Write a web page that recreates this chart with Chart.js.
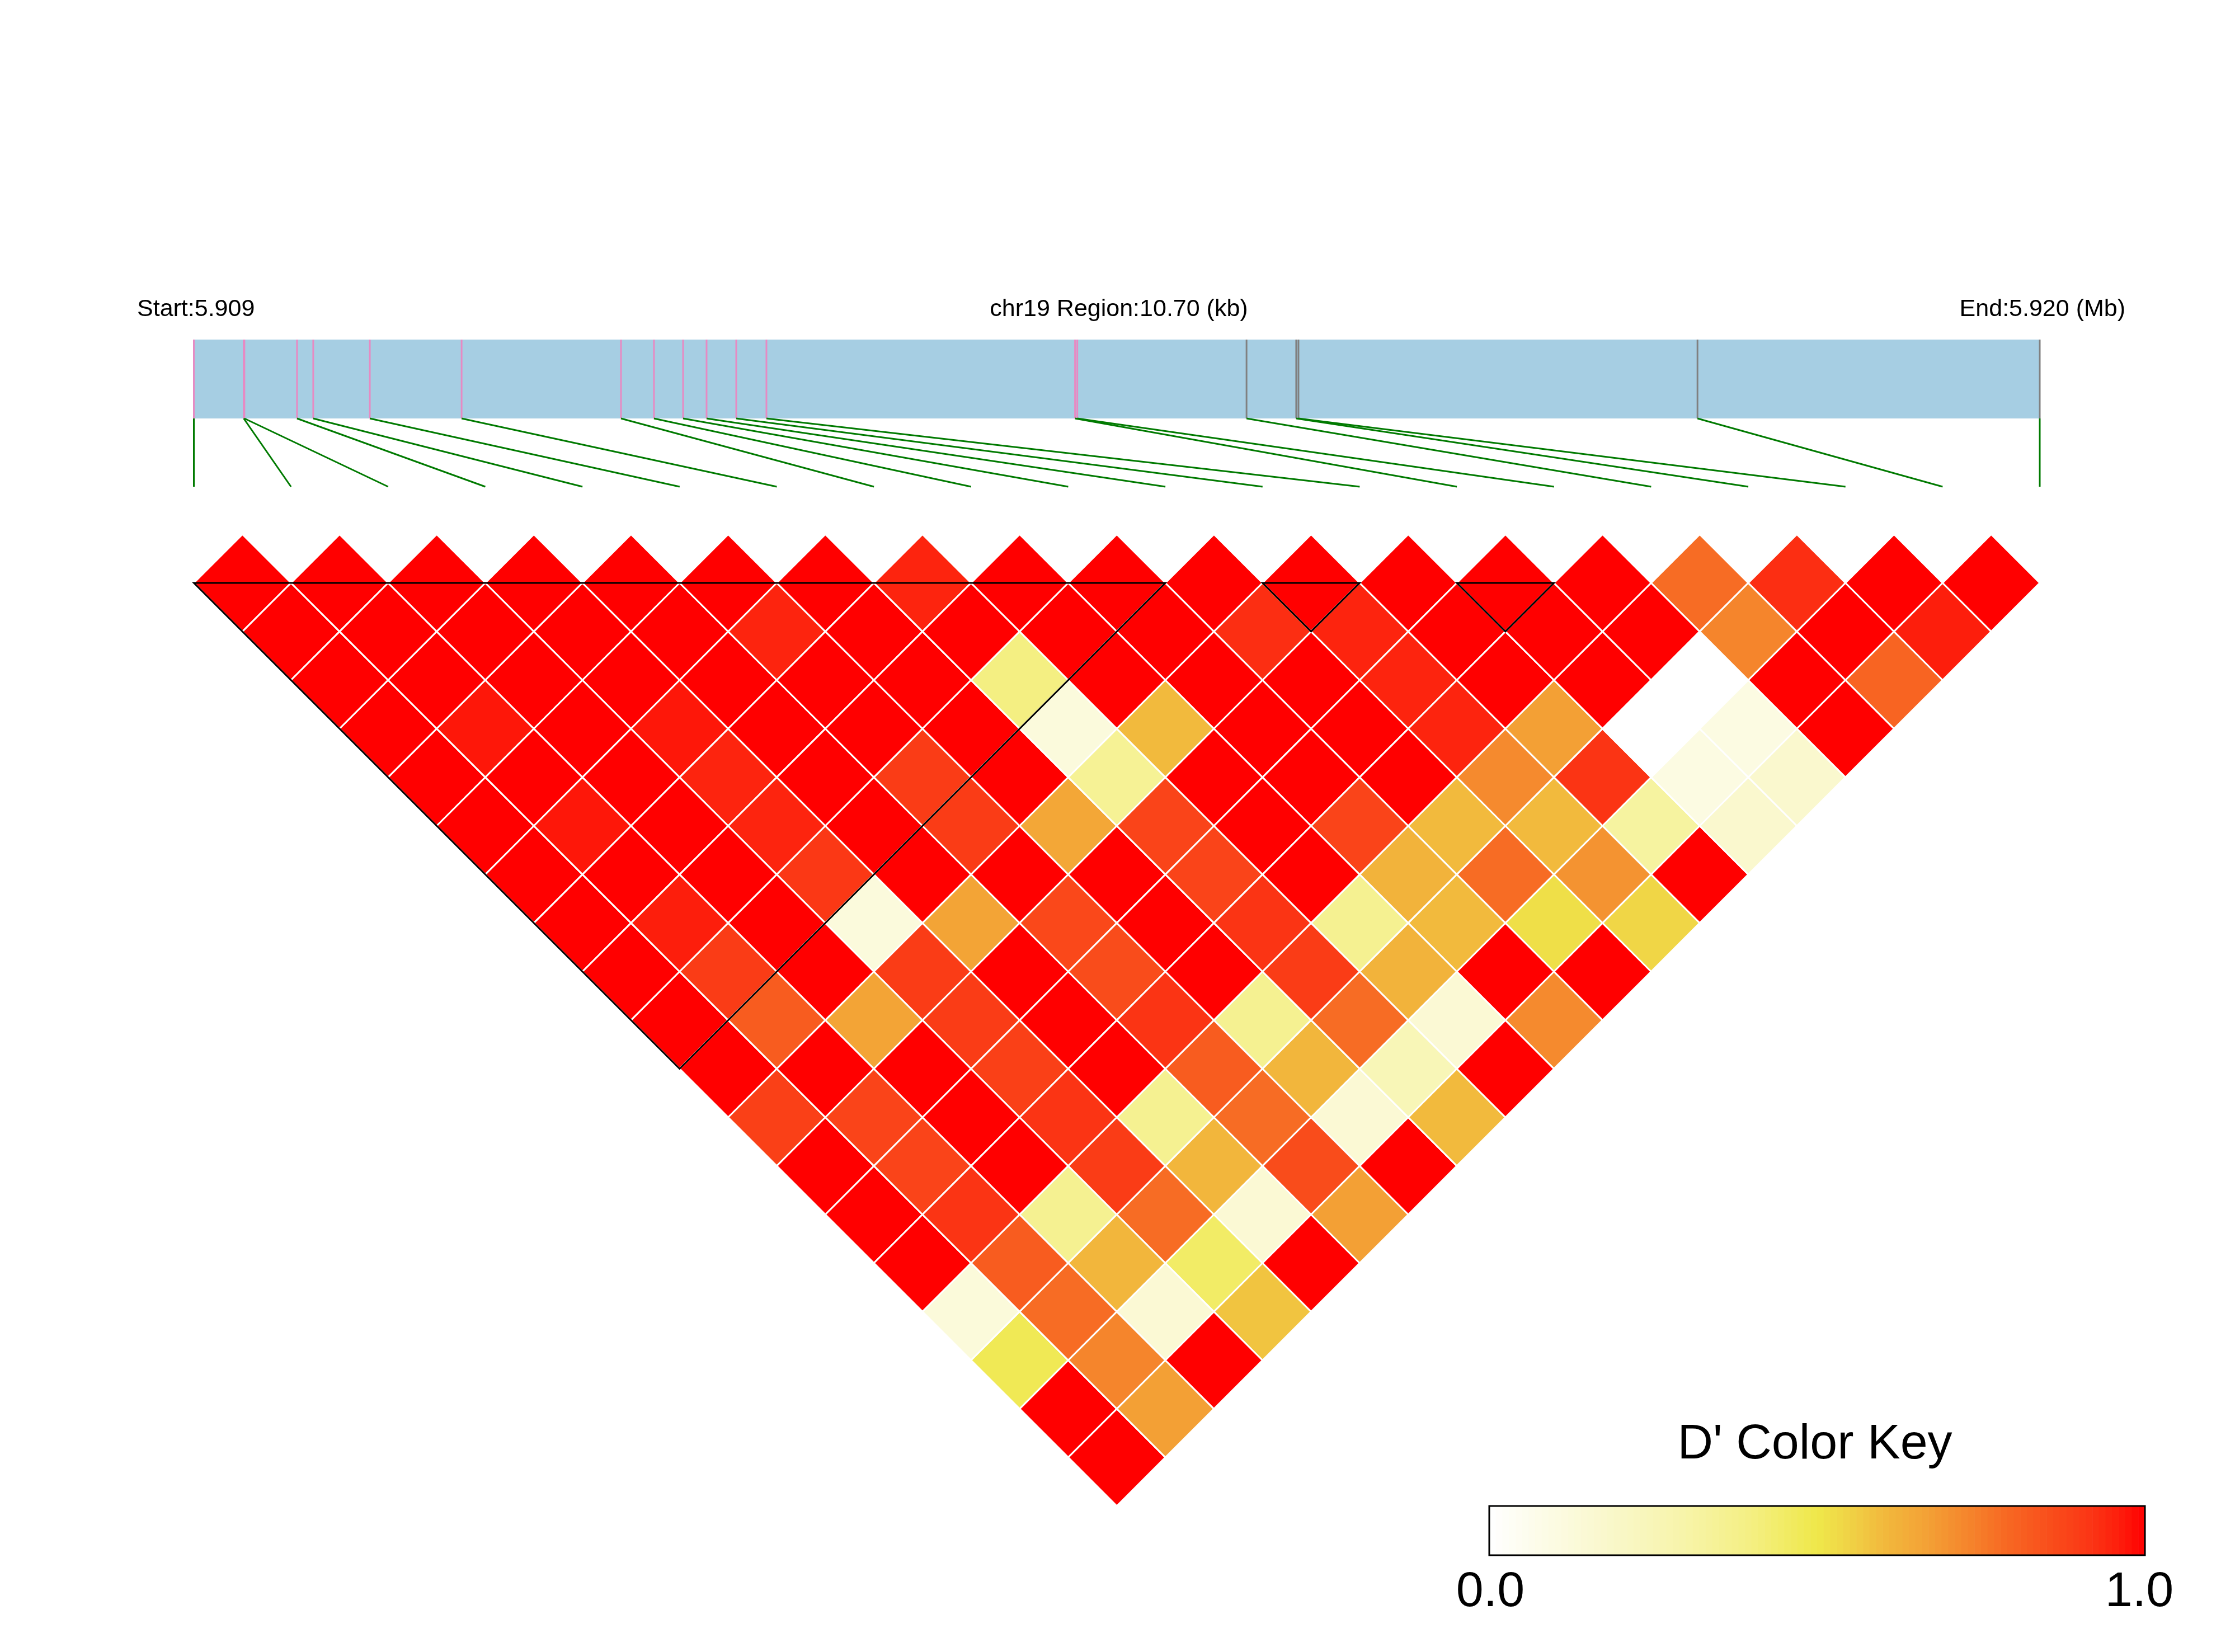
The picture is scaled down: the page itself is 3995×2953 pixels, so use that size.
<!DOCTYPE html>
<html>
<head>
<meta charset="utf-8">
<script src="https://cdn.jsdelivr.net/npm/chart.js@4.4.1/dist/chart.umd.min.js"></script>
<style>
html,body{margin:0;padding:0;background:#ffffff;}
#wrap{width:3995px;height:2953px;position:relative;}
</style>
</head>
<body>
<div id="wrap"><canvas id="c" width="3995" height="2953"></canvas></div>
<script>
// ---------------- DATA ----------------
const chromosome = 'chr19';
// physical positions of the 20 SNPs (bp)
const snpPositions = [
  5909250, 5909539, 5909543, 5909848, 5909942, 5910270, 5910802, 5911726, 5911917, 5912086,
  5912222, 5912394, 5912569, 5914358, 5914371, 5915352, 5915640, 5915653, 5917966, 5919950
];
// tick class in the gene bar: 'p' = pink, 'g' = grey
const snpTickClass = ['p','p','p','p','p','p','p','p','p','p','p','p','p','p','p','g','g','g','g','g'];
// D' values, row i holds pairs (i, j) for j = i+1 .. 20
const dPrimeRows = [
  [1,1,1,1,1,1,1,1,1,1,1,0.89,1,1,1,0.13,0.48,1,1],
  [1,1,1,0.97,1,0.97,1,0.96,0.90,0.82,1,0.88,0.88,0.92,0.82,0.78,0.73,0.67],
  [1,1,1,1,1,1,1,1,1,0.66,1,1,1,0.36,0.61,0.15,1],
  [1,1,1,0.97,0.95,0.95,0.91,0.12,0.90,0.90,0.89,0.92,0.90,0.78,0.45,0.58],
  [1,1,1,1,1,1,1,0.66,1,1,1,0.36,0.61,0.15,1],
  [1,0.95,1,1,0.90,0.90,1,0.87,0.86,0.92,0.82,0.78,0.86,0.67],
  [1,1,1,1,1,0.65,1,1,1,0.36,0.61,0.15,1],
  [0.95,1,0.40,0.12,0.35,0.88,0.88,0.92,0.90,0.78,0.25,0.60],
  [1,1,1,0.60,1,1,1,0.36,0.62,0.15,1],
  [1,1,1,1,1,0.88,0.62,0.60,1,0.72],
  [1,0.93,1,1,1,0.60,0.78,0.52,1],
  [1,0.95,0.95,0.95,0.72,0.60,0.70,0.54],
  [1,1,1,0.67,0.92,0.32,1],
  [1,1,1,0,0.10,0.17],
  [1,1,0,0.10,0.17],
  [0.78,0.73,1,1],
  [0.93,1,0.80],
  [1,0.96],
  [1]
];
// haplotype blocks (first SNP, last SNP)
const haploBlocks = [[1,11],[12,13],[14,15]];
const keyTitle = "D' Color Key";
const keyTickLabels = ['0.0','1.0'];

// ---------------- COLOUR RAMP ----------------
const rampStops = [
  [0.00,'#FFFFFF'],[0.10,'#FCFBE2'],[0.20,'#F9F7C6'],[0.30,'#F7F4A8'],[0.40,'#F4EF82'],
  [0.50,'#EFE84A'],[0.55,'#F0D245'],[0.60,'#F2BA3D'],[0.67,'#F3A035'],[0.73,'#F5852C'],
  [0.78,'#F76C24'],[0.85,'#F9501C'],[0.92,'#FB3414'],[0.96,'#FD1E0C'],[1.00,'#FF0000']
];
function hex2rgb(h){return [parseInt(h.substr(1,2),16),parseInt(h.substr(3,2),16),parseInt(h.substr(5,2),16)];}
function colorFor(v){
  v = Math.max(0, Math.min(1, v));
  for (let k = 1; k < rampStops.length; k++) {
    if (v <= rampStops[k][0]) {
      const [a, ca] = rampStops[k-1], [b, cb] = rampStops[k];
      const t = (v - a) / (b - a);
      const A = hex2rgb(ca), B = hex2rgb(cb);
      const c = A.map((x, n) => Math.round(x + (B[n] - x) * t));
      return 'rgb(' + c.join(',') + ')';
    }
  }
  return '#FF0000';
}

// ---------------- CELLS ----------------
const cells = [];
dPrimeRows.forEach((row, r) => {
  const i = r + 1;
  row.forEach((v, c) => {
    const j = i + 1 + c;
    cells.push({x: (i + j) / 2, y: j - i, v: v});
  });
});

// ---------------- DECORATIONS ----------------
const FONT = '"Liberation Sans", Arial, Helvetica, sans-serif';
const decor = {
  id: 'decor',
  afterDatasetsDraw(chart) {
    const ctx = chart.ctx;
    const xs = chart.scales.x, ys = chart.scales.y;
    const px = v => xs.getPixelForValue(v);
    const py = v => ys.getPixelForValue(v);
    const n = snpPositions.length;
    const p0 = snpPositions[0], p1 = snpPositions[n - 1];
    const physPx = p => px(1) + (p - p0) / (p1 - p0) * (px(n) - px(1));
    const barTop = 607, barBottom = 748, lineEnd = 870;

    ctx.save();
    // haplotype block outlines
    ctx.strokeStyle = '#000000';
    ctx.lineWidth = 3;
    ctx.lineJoin = 'miter';
    haploBlocks.forEach(([a, b]) => {
      ctx.beginPath();
      ctx.moveTo(px(a), py(1));
      ctx.lineTo(px(b), py(1));
      ctx.lineTo(px((a + b) / 2), py(1 + (b - a)));
      ctx.closePath();
      ctx.stroke();
    });

    // gene bar
    ctx.fillStyle = '#A6CEE3';
    ctx.fillRect(px(1), barTop, px(n) - px(1), barBottom - barTop);
    ctx.lineWidth = 3;
    snpPositions.forEach((p, k) => {
      const x = physPx(p);
      ctx.strokeStyle = snpTickClass[k] === 'p' ? '#E78AC3' : '#808080';
      ctx.beginPath();
      ctx.moveTo(x, barTop);
      ctx.lineTo(x, barBottom);
      ctx.stroke();
    });
    // connector lines
    ctx.strokeStyle = '#007A00';
    ctx.lineWidth = 3;
    snpPositions.forEach((p, k) => {
      ctx.beginPath();
      ctx.moveTo(physPx(p), barBottom);
      ctx.lineTo(px(k + 1), lineEnd);
      ctx.stroke();
    });

    // region labels
    ctx.fillStyle = '#000000';
    ctx.font = '43px ' + FONT;
    ctx.textBaseline = 'alphabetic';
    ctx.textAlign = 'left';
    ctx.fillText('Start:' + (p0 / 1e6).toFixed(3), 245, 565);
    ctx.textAlign = 'center';
    ctx.fillText(chromosome + ' Region:' + ((p1 - p0) / 1000).toFixed(2) + ' (kb)', 2000, 565);
    ctx.textAlign = 'right';
    ctx.fillText('End:' + (p1 / 1e6).toFixed(3) + ' (Mb)', 3799, 565);

    // colour key
    const kL = 2662, kR = 3834, kT = 2692, kB = 2780;
    const steps = 100;
    for (let s = 0; s < steps; s++) {
      const x0 = kL + (kR - kL) * s / steps;
      const x1 = kL + (kR - kL) * (s + 1) / steps;
      ctx.fillStyle = colorFor((s + 0.5) / steps);
      ctx.fillRect(x0, kT, x1 - x0 + 0.6, kB - kT);
    }
    ctx.strokeStyle = '#000000';
    ctx.lineWidth = 3;
    ctx.strokeRect(kL, kT, kR - kL, kB - kT);
    ctx.fillStyle = '#000000';
    ctx.font = '88px ' + FONT;
    ctx.textAlign = 'center';
    ctx.fillText(keyTitle, 3244, 2607);
    ctx.fillText(keyTickLabels[0], 2664, 2871);
    ctx.fillText(keyTickLabels[1], 3824, 2871);
    ctx.restore();
  }
};

// ---------------- CHART ----------------
function halfDiag(chart) {
  const xs = chart.scales && chart.scales.x;
  if (!xs) return 80;
  return (xs.getPixelForValue(2) - xs.getPixelForValue(1)) / 2;
}

new Chart(document.getElementById('c'), {
  type: 'scatter',
  data: {
    datasets: [{
      data: cells,
      pointStyle: 'rectRot',
      pointRadius: ctx => halfDiag(ctx.chart),
      pointHoverRadius: ctx => halfDiag(ctx.chart),
      backgroundColor: ctx => (ctx.raw ? colorFor(ctx.raw.v) : '#fff'),
      borderColor: '#FFFFFF',
      borderWidth: 3,
      clip: false
    }]
  },
  options: {
    responsive: false,
    animation: false,
    devicePixelRatio: 1,
    events: [],
    layout: {padding: {left: 346.5, right: 349, top: 955.2, bottom: 261}},
    plugins: {legend: {display: false}, tooltip: {enabled: false}, title: {display: false}},
    scales: {
      x: {type: 'linear', min: 1, max: 20, display: false},
      y: {type: 'linear', min: 0, max: 20, reverse: true, display: false}
    }
  },
  plugins: [decor]
});
</script>
</body>
</html>
